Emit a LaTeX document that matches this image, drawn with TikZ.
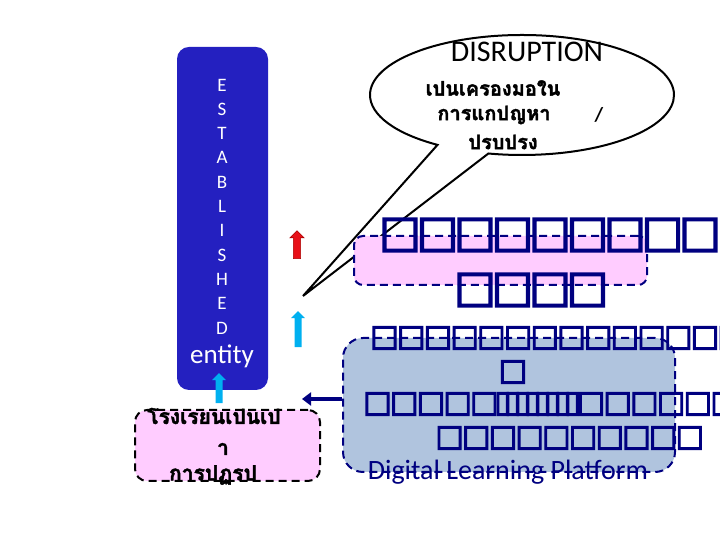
\documentclass[tikz,border=0pt]{standalone}
\usepackage{fontspec}
\setmainfont{Carlito}
\newfontfamily\thaifont[Script=Thai, BoldFeatures={FakeBold=2}]{Loma}
\newfontfamily\symfont[FakeBold=4]{DejaVu Sans}
\usetikzlibrary{shapes.callouts,shapes.arrows,arrows.meta}
\definecolor{estblue}  {RGB}{36,32,192}
\definecolor{pinkfill} {RGB}{255,204,255}
\definecolor{steelfill}{RGB}{176,196,222}
\definecolor{navy}     {RGB}{0,0,128}
\definecolor{skyarrow} {RGB}{0,176,240}
\definecolor{redarrow} {RGB}{232,16,24}
\definecolor{darkred}  {RGB}{170,0,0}
\newcommand{\tofu}{\makebox[\tofuw]{\symfont\char"25A1}} % missing glyph box
\newcommand{\slim}{\makebox[\slimw]{\symfont\char"25AF}}
\newlength{\tofuw}
\newlength{\slimw}
\tikzset{ % Setup for the picture
dashbox/.style={rounded corners=#1, line width=2pt, dash pattern=on 8pt off 5pt},
uparrow/.style={single arrow, shape border rotate=90, inner sep=3.3pt, single arrow head extend=3.5pt, minimum height=#1},
letter/.style={text=white, font=\fontsize{19}{19}\selectfont},
tofurow/.style={text=navy, anchor=west, inner sep=0pt},
thaitext/.style={font=\thaifont\bfseries\fontsize{#1}{#1}\selectfont},
}
\begin{document}
\begin{tikzpicture}[x=1pt,y=1pt]
            \useasboundingbox (0,0) rectangle (720,540);
            % left column
            \node [fill=estblue, rounded corners=12pt, minimum width=91pt, minimum height=343pt] (estbox) at (222.5,321.5) {};
            \foreach \l [count=\i] in {E,S,T,A,B,L,I,S,H,E,D}
                \node [letter] (let\i) at (222,455-24.3*\i+24.3) {\l};
            \node [text=white, font=\fontsize{27}{27}\selectfont] (entity) at (222,184) {entity};
            % callout
            \node [ellipse callout, draw, line width=2pt, minimum width=304pt, minimum height=120pt, callout absolute pointer={(303,244)}, callout pointer arc=21] (bubble) at (522,445) {};
            \node [font=\fontsize{30}{30}\selectfont] (disrupt) at (527,488) {DISRUPTION};
            \node [thaitext=20] (bub1) at (493,452) {เปนเครองมอใน};
            \node [thaitext=20] (bub2) at (494,425) {การแกปญหา};
            \node [font=\bfseries\fontsize{20}{20}\selectfont] (slash) at (599,425) {/};
            \node [thaitext=20] (bub3) at (503,398) {ปรบปรง};
            % arrows
            \node [uparrow=28pt, fill=redarrow, draw=darkred, line width=0.6pt] (redup) at (297,293.5) {};
            \node [uparrow=36pt, fill=skyarrow] (skyup) at (298,209) {};
            \node [uparrow=30pt, fill=skyarrow] (entup) at (219,150) {};
            % middle boxes
            \node [dashbox=9pt, draw=navy, fill=pinkfill, minimum width=293pt, minimum height=49pt] (goal) at (500.5,279.5) {};
            \setlength{\tofuw}{37.5pt}
            \node [tofurow, font=\fontsize{44}{44}\selectfont] (goal1) at (381,305) {\tofu\tofu\tofu\tofu\tofu\tofu\tofu\tofu\tofu};
            \node [tofurow, font=\fontsize{44}{44}\selectfont] (goal2) at (456,250) {\tofu\tofu\tofu\tofu};
            \node [dashbox=20pt, draw=navy, fill=steelfill, minimum width=332pt, minimum height=134pt] (platform) at (509,135) {};
            \setlength{\tofuw}{26.7pt}
            \setlength{\slimw}{10pt}
            \node [tofurow, font=\fontsize{30}{30}\selectfont] (plat1) at (371,202) {\tofu\tofu\tofu\tofu\tofu\tofu\tofu\tofu\tofu\tofu\tofu\tofu\tofu\tofu};
            \node [text=navy, font=\fontsize{30}{30}\selectfont, inner sep=0pt] (plat2) at (513,168) {\tofu};
            \node [tofurow, font=\fontsize{30}{30}\selectfont] (plat3) at (364,136) {\tofu\tofu\tofu\tofu\tofu\slim\slim\slim\slim\slim\slim\slim\slim\tofu\tofu\tofu\tofu\tofu\tofu};
            \node [tofurow, font=\fontsize{30}{30}\selectfont] (plat4) at (436,102) {\tofu\tofu\tofu\tofu\tofu\tofu\tofu\tofu\tofu\tofu};
            \node [text=navy, font=\fontsize{28}{28}\selectfont] (platname) at (508,68) {Digital Learning Platform};
            % school box
            \node [dashbox=12pt, draw=black, fill=pinkfill, minimum width=185pt, minimum height=71pt] (school) at (227.5,94.5) {};
            \node [thaitext=21] (school1) at (214,124) {โรงเรยนเปนเป};
            \node [thaitext=21] (school2) at (223,91) {า};
            \node [thaitext=21] (school3) at (213,65) {การปฏรป};
            \coordinate (navytip) at (302,141);
            \draw [navy, line width=4.5pt, -{Triangle[length=9pt,width=13pt]}] (platform.west |- navytip) -- (navytip);
        \end{tikzpicture}
\end{document}
